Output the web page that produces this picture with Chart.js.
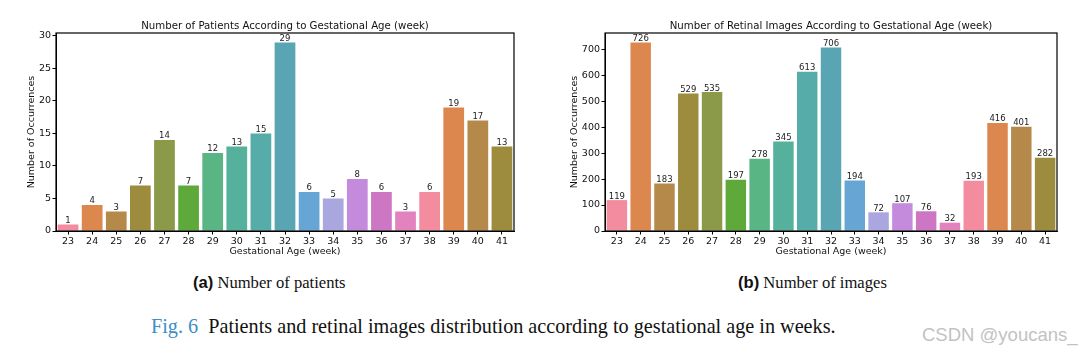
<!DOCTYPE html>
<html>
<head>
<meta charset="utf-8">
<script src="https://cdn.jsdelivr.net/npm/chart.js@4.4.1/dist/chart.umd.min.js"></script>
<style>
  html, body { margin: 0; padding: 0; background: #fff; }
  #wrap { position: relative; width: 1088px; height: 348px; overflow: hidden; background: #fff; }
  canvas { position: absolute; top: 0; }
  .cap { position: absolute; white-space: nowrap; font-family: 'Liberation Serif', 'Times New Roman', serif; color: #111; }
  .cap b { font-family: 'Liberation Sans', Arial, sans-serif; font-weight: bold; }
</style>
</head>
<body>
<div id="wrap">
  <canvas id="c1" width="540" height="262" style="left:0px;width:540px;height:262px"></canvas>
  <canvas id="c2" width="548" height="262" style="left:540px;width:548px;height:262px"></canvas>
  <div class="cap" style="left:193px;top:273px;font-size:16.6px;line-height:20px"><b>(a)</b> Number of patients</div>
  <div class="cap" style="left:738px;top:273px;font-size:16.6px;line-height:20px"><b>(b)</b> Number of images</div>
  <div class="cap" style="left:151px;top:314px;font-size:20.2px;line-height:24px"><span style="color:#3a8fc6">Fig. 6</span>&nbsp; Patients and retinal images distribution according to gestational age in weeks.</div>
  <div class="cap" style="left:922px;top:324px;font-size:18.5px;line-height:22px;font-family:'Liberation Sans',Arial,sans-serif;color:#c2c2c2">CSDN @youcans_</div>
</div>
<script>
const weeks = ['23','24','25','26','27','28','29','30','31','32','33','34','35','36','37','38','39','40','41'];
const patients = [1,4,3,7,14,7,12,13,15,29,6,5,8,6,3,6,19,17,13];
const images = [119,726,183,529,535,197,278,345,613,706,194,72,107,76,32,193,416,401,282];
const palette = ['#f48ca0','#dc874d','#b5894a','#9d8b3e','#8a9a48','#5fa93b','#5ab585','#55b19b','#56aca9','#5aa5b3','#67a6d4','#a9a6e0','#c48bdd','#cd77c4','#e283be'];
const barColors = weeks.map((w, i) => palette[i % palette.length]);

const FONT = "'DejaVu Sans', sans-serif";

const framePlugin = {
  id: 'frame',
  afterDraw(chart) {
    const a = chart.chartArea, ctx = chart.ctx;
    ctx.save();
    ctx.strokeStyle = '#000';
    ctx.lineWidth = 1.2;
    ctx.strokeRect(a.left, a.top, a.right - a.left, a.bottom - a.top);
    ctx.restore();
  }
};
const titlePlugin = {
  id: 'axTitle',
  afterDraw(chart, args, opts) {
    const a = chart.chartArea, ctx = chart.ctx;
    ctx.save();
    ctx.fillStyle = '#111';
    ctx.font = '10.2px ' + FONT;
    ctx.textAlign = 'center';
    ctx.textBaseline = 'middle';
    ctx.fillText(opts.text, (a.left + a.right) / 2, a.top - 7);
    ctx.restore();
  }
};
const labelPlugin = {
  id: 'barLabels',
  afterDatasetsDraw(chart) {
    const ctx = chart.ctx;
    const meta = chart.getDatasetMeta(0);
    const data = chart.data.datasets[0].data;
    ctx.save();
    ctx.fillStyle = '#222';
    ctx.font = '8.5px ' + FONT;
    ctx.textAlign = 'center';
    ctx.textBaseline = 'alphabetic';
    meta.data.forEach((el, i) => {
      ctx.fillText(String(data[i]), el.x, el.y - 1.5);
    });
    ctx.restore();
  }
};

function makeChart(id, values, titleText, stepSize, padLeft, padRight, yWidth) {
  const ymax = Math.max(...values) * 1.05;
  return new Chart(document.getElementById(id), {
    type: 'bar',
    data: {
      labels: weeks,
      datasets: [{ data: values, backgroundColor: barColors, borderWidth: 0,
                   barPercentage: 0.86, categoryPercentage: 1.0 }]
    },
    options: {
      responsive: false,
      animation: false,
      devicePixelRatio: 1,
      layout: { padding: { left: padLeft, right: padRight, top: 33, bottom: 0 } },
      plugins: {
        legend: { display: false },
        tooltip: { enabled: false },
        title: { display: false },
        axTitle: { text: titleText }
      },
      scales: {
        x: {
          grid: { display: true, drawOnChartArea: false, drawTicks: true, tickLength: 3.5, color: '#000', offset: false },
          border: { display: true, color: '#000', width: 1 },
          ticks: { color: '#111', font: { family: FONT, size: 9.5 }, padding: 1, maxRotation: 0, autoSkip: false },
          title: { display: true, text: 'Gestational Age (week)', color: '#111',
                   font: { family: FONT, size: 9.5, lineHeight: 1.2 }, padding: { top: 0, bottom: 5 } },
          afterFit(s) { s.height = 31; }
        },
        y: {
          min: 0, max: ymax,
          grid: { display: true, drawOnChartArea: false, drawTicks: true, tickLength: 3.5, color: '#000' },
          border: { display: true, color: '#000', width: 1 },
          ticks: { stepSize: stepSize, color: '#111', font: { family: FONT, size: 9.5 }, padding: 1.5 },
          afterBuildTicks(s) {
            const t = [];
            for (let v = 0; v <= s.max + 1e-9; v += stepSize) t.push({ value: v });
            s.ticks = t;
          },
          title: { display: true, text: 'Number of Occurrences', color: '#111',
                   font: { family: FONT, size: 9.5, lineHeight: 1.2 }, padding: { top: 4, bottom: 0 } },
          afterFit(s) { s.width = yWidth; }
        }
      }
    },
    plugins: [framePlugin, titlePlugin, labelPlugin]
  });
}

makeChart('c1', patients, 'Number of Patients According to Gestational Age (week)', 5, 22, 26, 34);
makeChart('c2', images, 'Number of Retinal Images According to Gestational Age (week)', 100, 25, 31, 40);
</script>
</body>
</html>
